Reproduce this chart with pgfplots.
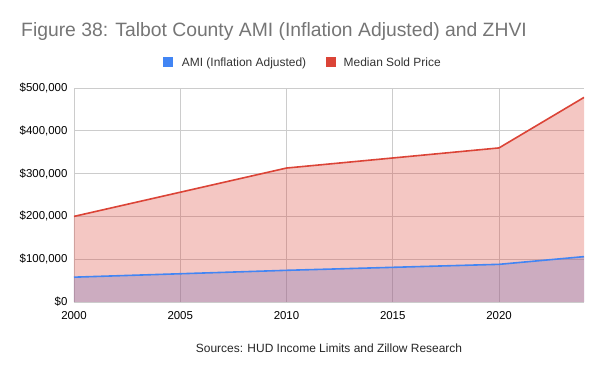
\documentclass[border=0pt]{standalone}
\usepackage{pgfplots}
\pgfplotsset{compat=1.18}
\usepackage{fontspec}
\setmainfont{Liberation Sans}
\definecolor{gblue}{HTML}{4285F4}
\definecolor{gred}{HTML}{DB4437}
\definecolor{titlegray}{HTML}{757575}
\definecolor{gridgray}{HTML}{CCCCCC}
\definecolor{axisdark}{HTML}{333333}
\begin{document}
\begin{tikzpicture}
\useasboundingbox (-74bp,-69bp) rectangle (526bp,302bp);
\begin{axis}[
  scale only axis,
  width=510bp, height=214bp,
  xmin=2000, xmax=2024, ymin=0, ymax=500000,
  axis line style={draw=none},
  major tick length=0pt,
  tick style={draw=none},
  grid=major,
  grid style={gridgray, line width=0.7bp},
  xtick={2000,2005,2010,2015,2020},
  ytick={0,100000,200000,300000,400000,500000},
  scaled y ticks=false,
  /pgf/number format/assume math mode=true,
  xticklabel style={font=\fontsize{11.5}{13}\selectfont, /pgf/number format/set thousands separator={}, yshift=-5.5bp},
  yticklabel style={font=\fontsize{11.5}{13}\selectfont, /pgf/number format/fixed, /pgf/number format/set thousands separator={,}, xshift=-3bp},
  yticklabel={\$\pgfmathprintnumber{\tick}},
]
\addplot[draw=none, fill=gblue, fill opacity=0.3] coordinates {(2000,58000) (2010,74000) (2020,88000) (2024,106000)} \closedcycle;
\addplot[draw=none, fill=gred, fill opacity=0.3] coordinates {(2000,200000) (2010,313000) (2020,360000) (2024,478000)} \closedcycle;
\addplot[gred, line width=1.6bp] coordinates {(2000,200000) (2010,313000) (2020,360000) (2024,478000)};
\addplot[gblue, line width=1.6bp] coordinates {(2000,58000) (2010,74000) (2020,88000) (2024,106000)};
\draw[axisdark, line width=1bp] (rel axis cs:0,0) -- (rel axis cs:1,0);
\end{axis}
\node[anchor=base west, inner sep=0pt, text=titlegray, font=\fontsize{19.4}{23}\selectfont] at (-53bp,265bp) {Figure 38: Talbot County AMI (Inflation Adjusted) and ZHVI};
\fill[gblue] (89bp,235bp) rectangle (99bp,245bp);
\node[anchor=base west, inner sep=0pt, font=\fontsize{12}{14}\selectfont, text=black!80] at (107.7bp,235bp) {AMI (Inflation Adjusted)};
\fill[gred] (252bp,235bp) rectangle (262bp,245bp);
\node[anchor=base west, inner sep=0pt, font=\fontsize{12}{14}\selectfont, text=black!80] at (269.5bp,235bp) {Median Sold Price};
\node[anchor=base, inner sep=0pt, font=\fontsize{12}{14}\selectfont, text=black!85] at (255bp,-50bp) {Sources: HUD Income Limits and Zillow Research};
\end{tikzpicture}
\end{document}
